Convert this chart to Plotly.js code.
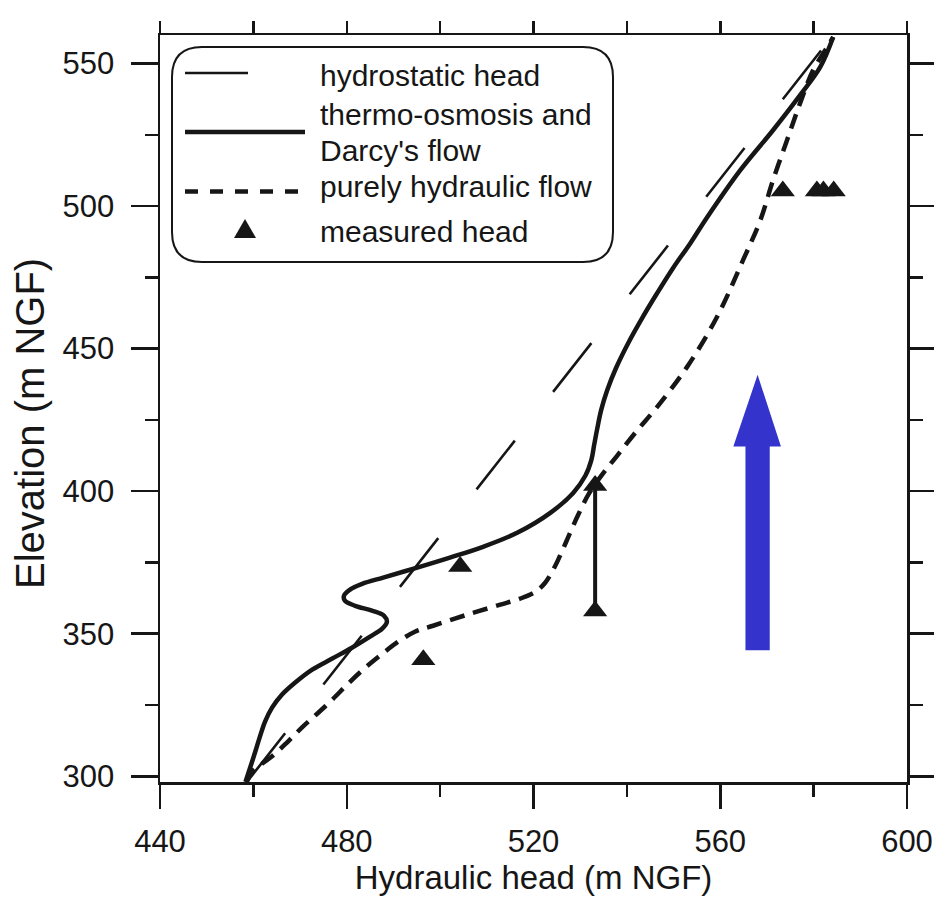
<!DOCTYPE html>
<html><head><meta charset="utf-8">
<script src="https://cdn.plot.ly/plotly-3.0.1.min.js"></script>
<style>html,body{margin:0;padding:0;background:#fff}</style>
</head><body><div id="chart" style="width:934px;height:897px"></div>
<script>
// ---- data (hydraulic head in m NGF, elevation in m NGF) ----
const hydrostaticX = [458.6, 584.2];
const hydrostaticY = [298, 560];

const thermoX = [458.3, 459.3, 460.4, 461.4, 462.5, 464.0, 466.1, 468.9, 472.6, 476.9, 481.1, 485.0, 487.6, 488.6, 488.0, 485.4, 481.8, 479.6, 479.4, 480.7, 483.3, 487.8, 495.1, 502.1, 509.2, 516.5, 523.6, 528.5, 531.1, 532.4, 533.0, 533.6, 534.5, 535.8, 537.7, 540.3, 543.3, 546.5, 549.9, 553.6, 557.2, 564.3, 571.3, 577.1, 581.4, 584.2];
const thermoY = [298, 303.0, 308.6, 313.9, 319.2, 324.1, 328.6, 332.8, 337.4, 341.3, 345.1, 349.0, 351.8, 354.2, 356.3, 358.1, 359.8, 361.6, 363.3, 365.5, 367.5, 369.7, 373.2, 376.7, 380.5, 385.4, 392.4, 399.4, 405.4, 411.0, 416.3, 421.5, 428.5, 435.5, 443.3, 452.0, 460.8, 469.5, 478.3, 487.0, 496.1, 512.6, 526.6, 538.9, 548.7, 559.3];

const hydraulicX = [458.6, 459.7, 461.9, 464.2, 467.4, 470.6, 473.9, 477.1, 480.3, 483.7, 487.4, 491.0, 494.6, 498.5, 505.8, 512.9, 517.1, 520.4, 522.5, 524.0, 525.3, 527.2, 529.6, 531.9, 534.7, 537.9, 541.8, 546.5, 552.9, 559.3, 564.9, 568.6, 571.3, 574.3, 577.1, 579.9, 582.9, 584.2];
const hydraulicY = [298, 301.6, 304.5, 307.3, 312.2, 317.4, 322.3, 327.2, 332.5, 337.7, 342.7, 347.2, 350.7, 352.8, 356.7, 360.2, 362.3, 364.7, 367.9, 371.8, 376.0, 383.0, 391.8, 399.2, 405.8, 412.4, 420.5, 429.6, 443.6, 461.1, 481.1, 495.1, 509.1, 523.1, 536.1, 547.7, 555.7, 559.3];

const measuredX = [496.4, 504.3, 573.4, 580.7, 582.1, 584.3];
const measuredY = [340.9, 373.6, 505.3, 505.3, 505.3, 505.3];

const rangeX = [533.2, 533.2];
const rangeY = [358.0, 402.0];

const legendLabels = ["hydrostatic head", "thermo-osmosis and", "Darcy's flow", "purely hydraulic flow", "measured head"];
const xTicks = [440, 480, 520, 560, 600];
const yTicks = [300, 350, 400, 450, 500, 550];

// ---- styling ----
const INK = '#161616';
const FONT = '"Liberation Sans", Arial, Helvetica, sans-serif';
const L = 160, R = 27, T = 35, B = 115, W = 934, H = 897;
const pw = W - L - R, ph = H - T - B;
const px = v => (v - L) / pw;          // pixel -> paper x
const py = v => (H - B - v) / ph;      // pixel -> paper y

const traces = [
  {x: hydrostaticX, y: hydrostaticY, mode: 'lines', line: {color: INK, width: 2.6, dash: '62px,62px'}, hoverinfo: 'skip'},
  {x: hydraulicX, y: hydraulicY, mode: 'lines', line: {color: INK, width: 4.5, dash: '15px,9px', shape: 'spline', smoothing: 1}, hoverinfo: 'skip'},
  {x: thermoX, y: thermoY, mode: 'lines', line: {color: INK, width: 4.5, shape: 'spline', smoothing: 1}, hoverinfo: 'skip'},
  {x: rangeX, y: rangeY, mode: 'lines+markers', line: {color: INK, width: 4}, marker: {symbol: 'triangle-up', size: 21, color: INK}, hoverinfo: 'skip'},
  {x: measuredX, y: measuredY, mode: 'markers', marker: {symbol: 'triangle-up', size: 21, color: INK}, hoverinfo: 'skip'},
  {x: [], y: [], xaxis: 'x2', yaxis: 'y2', mode: 'markers', hoverinfo: 'skip'}
];

// blue arrow (data coordinates)
const arrow = {x0: 565.4, x1: 570.6, hx0: 562.8, hx1: 573.0, xc: 568.0, yb: 344.2, yh: 415.7, yt: 440.8};
const shapes = [
  {type: 'path', xref: 'x', yref: 'y', layer: 'above',
   path: `M${arrow.x0},${arrow.yb} L${arrow.x1},${arrow.yb} L${arrow.x1},${arrow.yh} L${arrow.hx1},${arrow.yh} L${arrow.xc},${arrow.yt} L${arrow.hx0},${arrow.yh} L${arrow.x0},${arrow.yh} Z`,
   fillcolor: '#3434CC', line: {width: 0}}
];

// legend box with rounded corners (pixel geometry converted to paper)
(function(){
  const x0 = 172, x1 = 613, y0 = 47, y1 = 262, r = 30;
  const p = (x, y) => `${px(x)},${py(y)}`;
  const path = `M${p(x0 + r, y0)} L${p(x1 - r, y0)} Q${p(x1, y0)} ${p(x1, y0 + r)} L${p(x1, y1 - r)} Q${p(x1, y1)} ${p(x1 - r, y1)} L${p(x0 + r, y1)} Q${p(x0, y1)} ${p(x0, y1 - r)} L${p(x0, y0 + r)} Q${p(x0, y0)} ${p(x0 + r, y0)} Z`;
  shapes.push({type: 'path', xref: 'paper', yref: 'paper', path: path, line: {color: INK, width: 2}, fillcolor: 'rgba(255,255,255,1)', layer: 'above'});
  shapes.push({type: 'line', xref: 'paper', yref: 'paper', x0: px(185), x1: px(248), y0: py(73), y1: py(73), line: {color: INK, width: 2.6}, layer: 'above'});
  shapes.push({type: 'line', xref: 'paper', yref: 'paper', x0: px(185), x1: px(305), y0: py(132), y1: py(132), line: {color: INK, width: 4.5}, layer: 'above'});
  shapes.push({type: 'line', xref: 'paper', yref: 'paper', x0: px(185), x1: px(299), y0: py(191.5), y1: py(191.5), line: {color: INK, width: 4.5, dash: '13px,12px'}, layer: 'above'});
  shapes.push({type: 'path', xref: 'paper', yref: 'paper', path: `M${p(234, 238)} L${p(256, 238)} L${p(245, 219)} Z`, fillcolor: INK, line: {width: 0}, layer: 'above'});
})();

const baselines = [86, 125, 160.5, 197, 241.5];
const annotations = legendLabels.map((t, i) => ({
  text: t, xref: 'paper', yref: 'paper', x: px(318), y: py(baselines[i] - 10.4),
  xanchor: 'left', yanchor: 'middle', showarrow: false, font: {family: FONT, size: 30, color: INK}
}));
annotations.push({text: 'Elevation (m NGF)', xref: 'paper', yref: 'paper', x: px(30), y: py(424),
  xanchor: 'center', yanchor: 'middle', textangle: -90, showarrow: false, font: {family: FONT, size: 40, color: INK}});

const axCommon = {showgrid: false, zeroline: false, showline: true, linecolor: INK, linewidth: 2.5,
  ticks: 'outside', tickcolor: INK, tickwidth: 2.5, tickfont: {family: FONT, size: 31, color: INK}};

const layout = {
  width: W, height: H, margin: {l: L, r: R, t: T, b: B}, showlegend: false,
  paper_bgcolor: '#fff', plot_bgcolor: '#fff', font: {family: FONT, color: INK},
  xaxis: Object.assign({}, axCommon, {range: [440, 600], tickvals: xTicks, ticklen: 24,
    minor: {tick0: 440, dtick: 20, ticks: 'outside', ticklen: 12, tickwidth: 2.5, tickcolor: INK},
    ticklabelstandoff: 6,
    title: {text: 'Hydraulic head (m NGF)', font: {family: FONT, size: 33, color: INK}, standoff: 2}}),
  yaxis: Object.assign({}, axCommon, {range: [298, 560], tickvals: yTicks, ticklen: 27,
    minor: {tick0: 300, dtick: 25, ticks: 'outside', ticklen: 13, tickwidth: 2.5, tickcolor: INK},
    ticklabelstandoff: 10}),
  xaxis2: {overlaying: 'x', side: 'top', anchor: 'y', range: [440, 600], tick0: 440, dtick: 20,
    ticks: 'outside', ticklen: 12, tickwidth: 2.5, tickcolor: INK, showticklabels: false,
    showline: true, linecolor: INK, linewidth: 2.5, showgrid: false, zeroline: false},
  yaxis2: {overlaying: 'y', side: 'right', anchor: 'x', range: [298, 560], tickvals: yTicks, ticklen: 27,
    minor: {tick0: 300, dtick: 25, ticks: 'outside', ticklen: 13, tickwidth: 2.5, tickcolor: INK},
    ticks: 'outside', tickwidth: 2.5, tickcolor: INK, showticklabels: false,
    showline: true, linecolor: INK, linewidth: 2.5, showgrid: false, zeroline: false},
  shapes: shapes, annotations: annotations
};

Plotly.newPlot('chart', traces, layout, {displayModeBar: false, staticPlot: true});
</script></body></html>
